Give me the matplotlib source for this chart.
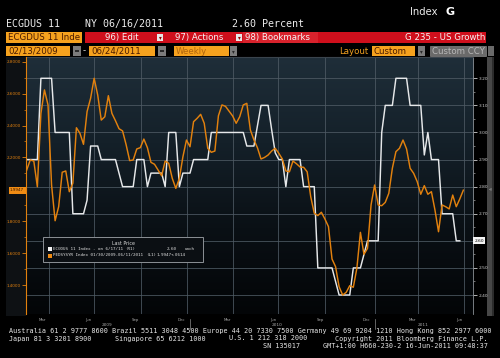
import numpy as np
import pandas as pd
import matplotlib
matplotlib.use("Agg")
import matplotlib.pyplot as plt
from matplotlib.patches import Rectangle
from matplotlib.colors import LinearSegmentedColormap
from matplotlib.ticker import FixedLocator, FormatStrFormatter

# ---------------- data ----------------
start_date = "2009-02-13"          # weekly observations
ecgdus_values = [
    2.90, 2.90, 2.90, 2.90, 3.20, 3.20, 3.20, 3.20, 3.00, 3.00,
    3.00, 3.00, 3.00, 2.70, 2.70, 2.70, 2.70, 2.75, 2.95, 2.95,
    2.95, 2.90, 2.90, 2.90, 2.90, 2.90, 2.85, 2.80, 2.80, 2.80,
    2.80, 2.90, 2.90, 2.90, 2.80, 2.85, 2.85, 2.85, 2.85, 2.80,
    3.00, 3.00, 3.00, 2.80, 2.85, 2.85, 2.85, 2.90, 2.90, 2.90,
    2.90, 2.90, 3.00, 3.00, 3.00, 3.00, 3.00, 3.00, 3.00, 3.00,
    3.00, 3.00, 2.95, 2.95, 2.95, 3.025, 3.10, 3.10, 3.10, 3.01,
    2.925, 2.90, 2.90, 2.80, 2.90, 2.90, 2.90, 2.90, 2.80, 2.80,
    2.80, 2.80, 2.50, 2.50, 2.50, 2.50, 2.50, 2.45, 2.40, 2.40,
    2.40, 2.40, 2.50, 2.50, 2.50, 2.55, 2.60, 2.60, 2.60, 2.60,
    3.00, 3.10, 3.10, 3.10, 3.20, 3.20, 3.20, 3.20, 3.10, 3.10,
    3.10, 3.10, 2.917, 3.00, 2.90, 2.90, 2.90, 2.70, 2.70, 2.70,
    2.70, 2.60, 2.60,
]
pedsysyr_values = [
    2.121, 2.184, 2.177, 2.016, 2.476, 2.623, 2.529, 2.027, 1.803, 1.891,
    2.107, 2.115, 1.985, 2.038, 2.386, 2.351, 2.282, 2.487, 2.571, 2.696,
    2.591, 2.434, 2.455, 2.587, 2.476, 2.430, 2.380, 2.366, 2.280, 2.180,
    2.184, 2.253, 2.261, 2.315, 2.261, 2.169, 2.157, 2.121, 2.085, 2.177,
    2.163, 2.069, 2.006, 2.069, 2.204, 2.309, 2.267, 2.424, 2.445, 2.470,
    2.414, 2.257, 2.232, 2.240, 2.461, 2.529, 2.520, 2.490, 2.460, 2.414,
    2.455, 2.529, 2.539, 2.372, 2.310, 2.260, 2.190, 2.200, 2.215, 2.240,
    2.257, 2.226, 2.190, 2.115, 2.110, 2.177, 2.160, 2.140, 2.138, 2.110,
    1.954, 1.850, 1.835, 1.856, 1.814, 1.766, 1.563, 1.515, 1.389, 1.337,
    1.354, 1.396, 1.386, 1.505, 1.730, 1.592, 1.630, 1.902, 2.027, 1.902,
    1.897, 1.918, 1.975, 2.132, 2.236, 2.257, 2.309, 2.253, 2.132, 2.100,
    2.048, 1.969, 2.023, 1.969, 1.985, 1.870, 1.734, 1.902, 1.891, 1.877,
    1.964, 1.891, 1.940, 1.9947,
]
ecgdus_last = 2.60
pedsysyr_last = 1.9947

right_grid = [2.4, 2.5, 2.6, 2.7, 2.8, 2.9, 3.0, 3.1, 3.2]
right_ticks = [2.4, 2.5, 2.7, 2.8, 2.9, 3.0, 3.1, 3.2]   # 2.60 hidden behind last-value tag
right_minor_ticks = [2.45, 2.55, 2.6, 2.65, 2.75, 2.85, 2.95, 3.05, 3.15]
left_ticks = [1.4, 1.6, 1.8, 2.2, 2.4, 2.6, 2.8]        # 2.0 hidden behind last-value tag
left_minor_ticks = [1.5, 1.7, 1.9, 2.0, 2.1, 2.3, 2.5, 2.7]
month_tick_dates = ["2009-03-15", "2009-06-15", "2009-09-15", "2009-12-15",
                    "2010-03-15", "2010-06-15", "2010-09-15", "2010-12-15",
                    "2011-03-15", "2011-06-15"]
month_tick_labels = ["Mar", "Jun", "Sep", "Dec", "Mar", "Jun", "Sep", "Dec", "Mar", "Jun"]
grid_dates = ["2009-03-28", "2009-06-26", "2009-09-26", "2009-12-27", "2010-03-26",
              "2010-06-24", "2010-09-24", "2011-01-01", "2011-03-26", "2011-06-26"]
year_labels = ["2009", "2010", "2011"]
year_label_dates = ["2009-07-21", "2010-06-22", "2011-04-05"]
year_break_dates = ["2010-01-01", "2011-01-01"]

# ---------------- figure ----------------
W, H = 500, 358
fig = plt.figure(figsize=(W / 100, H / 100), dpi=100, facecolor="black")


def fx(x):
    return x / W


def fy(y):
    return 1 - y / H


def box(x0, y0, x1, y1, color, z=1, ec="none", lw=0):
    fig.patches.append(Rectangle((fx(x0), fy(y1)), (x1 - x0) / W, (y1 - y0) / H,
                                 transform=fig.transFigure, fc=color, ec=ec, lw=lw, zorder=z))


def txt(x, y, s, **kw):
    kw.setdefault("va", "center")
    fig.text(fx(x), fy(y), s, **kw)


MONO = "DejaVu Sans Mono"
ORANGE_BOX = "#f6a21e"
DARK_TXT = "#4a1a00"

# header line
txt(6, 24, "ECGDUS 11", family=MONO, size=7.2, color="#ececec")
txt(85, 24, "NY 06/16/2011", family=MONO, size=7.2, color="#ececec")
txt(232, 24, "2.60 Percent", family=MONO, size=7.2, color="#ececec")
txt(410, 12, "Index", size=7.2, color="#ececec")
txt(446, 12, "G", size=8, color="#ffffff", weight="bold")

# row 2: security box + red menu bar
box(6, 32, 82, 43, ORANGE_BOX)
txt(8, 37.5, "ECGDUS 11 Inde", size=6.2, color=DARK_TXT)
box(85, 32, 486, 43, "#cf0f1c")
box(243, 32, 318, 43, "#d8222c")
box(157, 34, 163, 41, "#e8e8e8", z=2)
box(236, 34, 242, 41, "#e8e8e8", z=2)
txt(160, 37.8, "\u25be", size=4, color="#900000", ha="center", zorder=3)
txt(239, 37.8, "\u25be", size=4, color="#900000", ha="center", zorder=3)
txt(105, 37.5, "96) Edit", size=6.2, color="#f4f4f4")
txt(175, 37.5, "97) Actions", size=6.2, color="#f4f4f4")
txt(245, 37.5, "98) Bookmarks", size=6.2, color="#f4f4f4")
txt(485, 37.5, "G 235 - US Growth", size=6.2, color="#f4f4f4", ha="right")

# row 3: date range / period / layout
box(6, 46, 70, 56, ORANGE_BOX)
txt(8, 51, "02/13/2009", size=6.2, color=DARK_TXT)
box(73, 46, 81, 56, "#7c7c7c")
box(75, 50, 79, 52, "#2a2a2a", z=2)
txt(84.5, 51, "-", size=6.2, color="#dddddd", ha="center")
box(89, 46, 155, 56, ORANGE_BOX)
txt(91, 51, "06/24/2011", size=6.2, color=DARK_TXT)
box(158, 46, 166, 56, "#7c7c7c")
box(160, 50, 164, 52, "#2a2a2a", z=2)
box(174, 46, 229, 56, ORANGE_BOX)
txt(176, 51, "Weekly", size=6.2, color="#b0650e")
box(230, 46, 237, 56, "#7c7c7c")
txt(233.5, 51.5, "\u25be", size=4, color="#2a2a2a", ha="center", zorder=3)
txt(339, 51, "Layout", size=6.2, color="#f0a020")
box(372, 46, 415, 56, ORANGE_BOX)
txt(374, 51, "Custom", size=6.2, color=DARK_TXT)
box(418, 46, 425, 56, "#7c7c7c")
txt(421.5, 51.5, "\u25be", size=4, color="#2a2a2a", ha="center", zorder=3)
box(430, 46, 486, 56, "#6a6a6a", ec="#9a9a9a", lw=0.4)
txt(432, 51, "Custom CCY", size=6.2, color="#b8b8b8")
box(488, 46, 494, 56, "#6a6a6a")

# side decorations
box(6, 57, 26, 316, "#0e1114")
box(487, 57, 494, 316, "#474747")
box(492, 57, 494, 316, "#2c2c2c", z=2)
txt(490, 190, "\u00ab", size=4, color="#bbbbbb", ha="center", zorder=3)

# ---------------- axes ----------------
ax_left_px, ax_right_px, ax_top_px, ax_bot_px = 26, 473, 57, 314
ax = fig.add_axes([fx(ax_left_px), fy(ax_bot_px), (ax_right_px - ax_left_px) / W,
                   (ax_bot_px - ax_top_px) / H])
axl = ax.twinx()
ax.set_zorder(2)
axl.set_zorder(3)
axl.patch.set_visible(False)

dates_w = pd.date_range(start_date, periods=len(ecgdus_values), freq="7D")
dates_o = pd.date_range(start_date, periods=len(pedsysyr_values), freq="7D")

t0 = pd.Timestamp(start_date)
xmin = t0 - pd.Timedelta(days=1.4)
xmax = t0 + pd.Timedelta(days=880)

cmap = LinearSegmentedColormap.from_list("bg", ["#030507", "#0a1015", "#142029", "#1f2e39"])
grad = np.linspace(0, 1, 256).reshape(-1, 1)
ax.imshow(grad, cmap=cmap, origin="lower", extent=[0, 1, 0, 1],
          transform=ax.transAxes, aspect="auto", zorder=0, interpolation="bicubic")

grid_c = "#4f5b65"
for v in right_grid:
    ax.axhline(v, color=grid_c, lw=0.55, zorder=1)
for d in grid_dates:
    ax.axvline(pd.Timestamp(d), color=grid_c, lw=0.55, zorder=1)

ax.plot(dates_w, ecgdus_values, color="#e6e8ea", lw=1.05, zorder=3)
ax.set_xlim(xmin, xmax)
ax.set_ylim(2.3299, 3.2786)

# right axis (white series)
ax.yaxis.tick_right()
ax.yaxis.set_label_position("right")
ax.yaxis.set_major_locator(FixedLocator(right_ticks))
ax.yaxis.set_minor_locator(FixedLocator(right_minor_ticks))
ax.yaxis.set_major_formatter(FormatStrFormatter("%.2f"))
ax.tick_params(axis="y", which="major", direction="out", length=3, width=0.6,
               colors="#d0d0d0", labelsize=3.2, pad=1, left=False, labelleft=False,
               right=True, labelright=True)
ax.tick_params(axis="y", which="minor", direction="out", length=1.5, width=0.5,
               color="#a0a0a0", left=False, right=True)

ax.set_xticks([pd.Timestamp(d) for d in month_tick_dates])
ax.set_xticklabels(month_tick_labels)
ax.tick_params(axis="x", which="major", length=0, labelsize=2.8, colors="#a8a8a8", pad=3)
for s in ["left", "bottom"]:
    ax.spines[s].set_visible(False)
ax.spines["top"].set_color("#3a444d")
ax.spines["top"].set_linewidth(0.8)
ax.spines["right"].set_color("#8a8f94")
ax.spines["right"].set_linewidth(0.6)

xt = ax.get_xaxis_transform()
for lab, d in zip(year_labels, year_label_dates):
    ax.text(pd.Timestamp(d), -0.043, lab, transform=xt, ha="center", va="center",
            fontsize=3.1, color="#a8a8a8")
for d in year_break_dates:
    ax.plot([pd.Timestamp(d)] * 2, [-0.02, -0.06], transform=xt, clip_on=False,
            color="#8a8a8a", lw=0.5)

ax.text(1.003, ecgdus_last, "%.2f" % ecgdus_last, transform=ax.get_yaxis_transform(),
        ha="left", va="center", fontsize=3.2, color="#000000", zorder=6,
        bbox=dict(boxstyle="square,pad=0.3", fc="#f4f4f4", ec="none"))

# left axis (orange series)
axl.plot(dates_o, pedsysyr_values, color="#e2810e", lw=1.05, zorder=3)
axl.set_ylim(1.2182, 2.8295)
axl.yaxis.tick_left()
axl.yaxis.set_label_position("left")
axl.yaxis.set_major_locator(FixedLocator(left_ticks))
axl.yaxis.set_minor_locator(FixedLocator(left_minor_ticks))
axl.yaxis.set_major_formatter(FormatStrFormatter("%.4f"))
axl.tick_params(axis="y", which="major", direction="out", length=3, width=0.6,
                colors="#e2810e", labelsize=3.0, pad=0.6, right=False, labelright=False,
                left=True, labelleft=True)
axl.tick_params(axis="y", which="minor", direction="out", length=1.5, width=0.5,
                color="#e2810e", right=False, left=True)
axl.tick_params(axis="x", which="both", bottom=False, labelbottom=False, top=False)
for s in ["right", "top", "bottom"]:
    axl.spines[s].set_visible(False)
axl.spines["left"].set_color("#e2810e")
axl.spines["left"].set_linewidth(0.8)
axl.text(-0.004, pedsysyr_last, "%.4f" % pedsysyr_last, transform=axl.get_yaxis_transform(),
         ha="right", va="center", fontsize=3.0, color="#3a1800", zorder=6,
         bbox=dict(boxstyle="square,pad=0.35", fc="#f08c14", ec="none"))

# legend panel
box(43, 237, 203, 262, "#0b0f13", z=5, ec="#8c9196", lw=0.7)
txt(124, 243.5, "Last Price", size=3.4, color="#d8d8d8", ha="center", zorder=6)
box(47.5, 247, 51.5, 251, "#f4f4f4", z=6)
box(47.5, 253.5, 51.5, 257.5, "#f08c14", z=6)
txt(53, 249, "ECGDUS 11 Index - on 6/17/11", family=MONO, size=3.1, color="#e0e0e0", zorder=6)
txt(125, 249, "(R1)", family=MONO, size=3.1, color="#e0e0e0", zorder=6)
txt(167, 249, "2.60", family=MONO, size=3.1, color="#e0e0e0", zorder=6)
txt(185, 249, "unch", family=MONO, size=3.1, color="#e0e0e0", zorder=6)
txt(53, 255.5, "PEDSYSYR Index 01/30/2009-06/11/2011", family=MONO, size=3.1, color="#e0e0e0", zorder=6)
txt(146, 255.5, "(L1)", family=MONO, size=3.1, color="#e0e0e0", zorder=6)
txt(156, 255.5, "1.9947", family=MONO, size=3.1, color="#e0e0e0", zorder=6)
txt(171, 255.5, "+.0614", family=MONO, size=3.1, color="#e0e0e0", zorder=6)

# footer
fc = "#e8e8e8"
fs = 4.87
txt(9, 331, "Australia 61 2 9777 8600 Brazil 5511 3048 4500 Europe 44 20 7330 7500 "
    "Germany 49 69 9204 1210 Hong Kong 852 2977 6000", family=MONO, size=fs, color=fc)
txt(9, 338.5, "Japan 81 3 3201 8900", family=MONO, size=fs, color=fc)
txt(115, 338.5, "Singapore 65 6212 1000", family=MONO, size=fs, color=fc)
txt(229, 338.5, "U.S. 1 212 318 2000", family=MONO, size=fs, color=fc)
txt(335, 338.5, "Copyright 2011 Bloomberg Finance L.P.", family=MONO, size=fs, color=fc)
txt(263, 345.5, "SN 135017", family=MONO, size=fs, color=fc)
txt(323, 345.5, "GMT+1:00 H660-230-2 16-Jun-2011 09:48:37", family=MONO, size=fs, color=fc)

fig.savefig("out.png", dpi=100, facecolor="black")
